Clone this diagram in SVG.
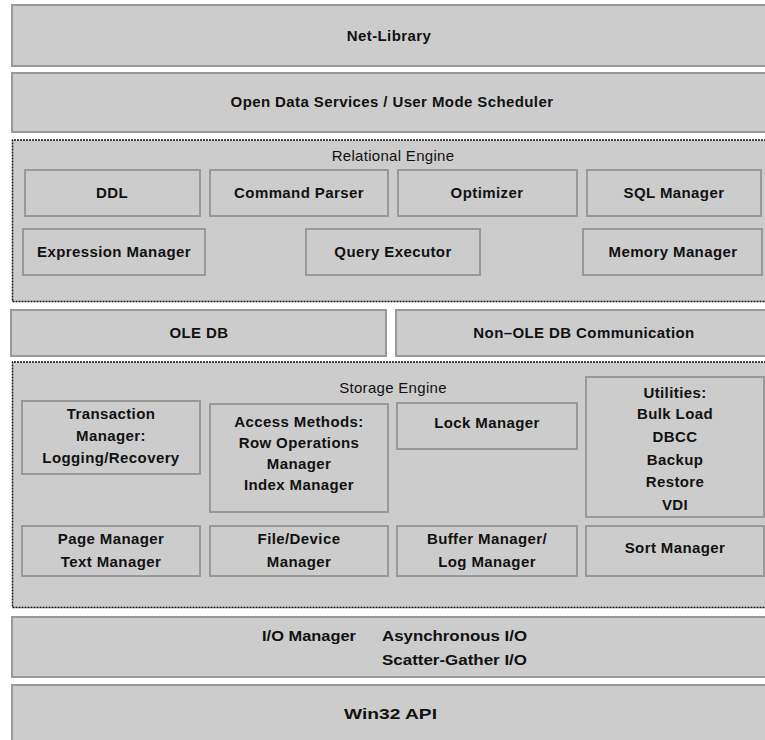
<svg xmlns="http://www.w3.org/2000/svg" width="765" height="740" viewBox="0 0 765 740">
<style>
.box{fill:#cccccc;stroke:#999999;stroke-width:2}
.grp{fill:none;stroke:#111111;stroke-width:1.5;stroke-dasharray:2 1}
.t{font-family:"Liberation Sans",Arial,sans-serif;font-size:15px;font-weight:bold;fill:#111111;text-anchor:middle;letter-spacing:0.4px}
.h{font-family:"Liberation Sans",Arial,sans-serif;font-size:15px;fill:#111111;text-anchor:middle;letter-spacing:0.3px}
.n{font-family:"Liberation Sans",Arial,sans-serif;font-size:15px;font-weight:bold;fill:#111111}
</style>
<rect width="765" height="740" fill="#ffffff"/>
<g id="net-library"><rect class="box" x="12" y="5" width="760" height="61"/><text class="t" x="389" y="41">Net-Library</text></g>
<g id="ods"><rect class="box" x="12" y="73" width="760" height="59"/><text class="t" x="392" y="107">Open Data Services / User Mode Scheduler</text></g>
<g id="relational-engine">
<rect x="12.5" y="140" width="760" height="161.5" fill="#cccccc"/>
<path class="grp" d="M775 140 H12.5 V301.5 H775" />
<text class="h" x="393" y="161">Relational Engine</text>
</g>
<g id="ddl"><rect class="box" x="25" y="170" width="175" height="46"/><text class="t" x="112" y="198">DDL</text></g>
<g id="command-parser"><rect class="box" x="210" y="170" width="178" height="46"/><text class="t" x="299" y="198">Command Parser</text></g>
<g id="optimizer"><rect class="box" x="398" y="170" width="179" height="46"/><text class="t" x="487" y="198">Optimizer</text></g>
<g id="sql-manager"><rect class="box" x="587" y="170" width="174" height="46"/><text class="t" x="674" y="198">SQL Manager</text></g>
<g id="expression-manager"><rect class="box" x="23" y="229" width="182" height="46"/><text class="t" x="114" y="257">Expression Manager</text></g>
<g id="query-executor"><rect class="box" x="306" y="229" width="174" height="46"/><text class="t" x="393" y="257">Query Executor</text></g>
<g id="memory-manager"><rect class="box" x="583" y="229" width="179" height="46"/><text class="t" x="673" y="257">Memory Manager</text></g>
<g id="ole-db"><rect class="box" x="11" y="310" width="375" height="46"/><text class="t" x="199" y="338">OLE DB</text></g>
<g id="non-ole-db"><rect class="box" x="396" y="310" width="376" height="46"/><text class="t" x="584" y="338">Non–OLE DB Communication</text></g>
<g id="storage-engine">
<rect x="12.5" y="362" width="760" height="245.5" fill="#cccccc"/>
<path class="grp" d="M775 362 H12.5 V607.5 H775" />
<text class="h" x="393" y="393">Storage Engine</text>
</g>
<g id="transaction-manager"><rect class="box" x="22" y="401" width="178" height="73"/>
<text class="t" x="111" y="419">Transaction</text><text class="t" x="111" y="441">Manager:</text><text class="t" x="111" y="463">Logging/Recovery</text></g>
<g id="access-methods"><rect class="box" x="210" y="404" width="178" height="108"/>
<text class="t" x="299" y="427">Access Methods:</text><text class="t" x="299" y="448">Row Operations</text><text class="t" x="299" y="469">Manager</text><text class="t" x="299" y="490">Index Manager</text></g>
<g id="lock-manager"><rect class="box" x="397" y="403" width="180" height="46"/><text class="t" x="487" y="428">Lock Manager</text></g>
<g id="utilities"><rect class="box" x="586" y="377" width="178" height="140"/>
<text class="t" x="675" y="398">Utilities:</text><text class="t" x="675" y="419">Bulk Load</text><text class="t" x="675" y="442">DBCC</text><text class="t" x="675" y="465">Backup</text><text class="t" x="675" y="487">Restore</text><text class="t" x="675" y="510">VDI</text></g>
<g id="page-manager"><rect class="box" x="22" y="526" width="178" height="50"/>
<text class="t" x="111" y="544">Page Manager</text><text class="t" x="111" y="567">Text Manager</text></g>
<g id="file-device-manager"><rect class="box" x="210" y="526" width="178" height="50"/>
<text class="t" x="299" y="544">File/Device</text><text class="t" x="299" y="567">Manager</text></g>
<g id="buffer-manager"><rect class="box" x="397" y="526" width="180" height="50"/>
<text class="t" x="487" y="544">Buffer Manager/</text><text class="t" x="487" y="567">Log Manager</text></g>
<g id="sort-manager"><rect class="box" x="586" y="526" width="178" height="50"/><text class="t" x="675" y="553">Sort Manager</text></g>
<g id="io-manager"><rect class="box" x="12" y="617" width="760" height="60"/>
<text class="n" x="262" y="641" textLength="94" lengthAdjust="spacingAndGlyphs">I/O Manager</text>
<text class="n" x="382" y="641" textLength="145" lengthAdjust="spacingAndGlyphs">Asynchronous I/O</text>
<text class="n" x="382" y="665" textLength="145" lengthAdjust="spacingAndGlyphs">Scatter-Gather I/O</text></g>
<g id="win32-api"><rect class="box" x="12" y="685" width="760" height="60"/>
<text class="n" x="344" y="719" textLength="93" lengthAdjust="spacingAndGlyphs">Win32 API</text></g>
<g id="connectors"></g>
</svg>
